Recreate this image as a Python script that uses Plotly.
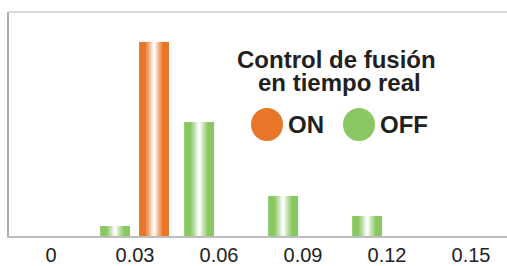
import plotly.graph_objects as go

# Data
bin_centers = [0.015, 0.045, 0.075, 0.105, 0.135]
on_values = [0, 97, 0, 0, 0]
off_values = [5, 57, 20, 10, 0]
tick_vals = [0, 0.03, 0.06, 0.09, 0.12, 0.15]
tick_text = ["0", "0.03", "0.06", "0.09", "0.12", "0.15"]
title_lines = ["Control de fusión", "en tiempo real"]
series_names = ["ON", "OFF"]

ORANGE = (232, 118, 40)
GREEN = (136, 199, 98)

def mix(c, t):
    r, g, b = (round(v + (255 - v) * t) for v in c)
    return f"rgb({r},{g},{b})"

W = 0.0107
layers = [(1.0, 0.0), (0.52, 0.25), (0.36, 0.5), (0.22, 0.75), (0.1, 0.95)]

fig = go.Figure()
for name, vals, col, cofs in [("ON", on_values, ORANGE, -0.0082), ("OFF", off_values, GREEN, 0.0079)]:
    for frac, t in layers:
        w = W * frac
        fig.add_trace(go.Bar(
            x=bin_centers, y=vals, width=w, offset=cofs - w / 2,
            marker=dict(color=mix(col, t), line=dict(width=0)),
            name=name, showlegend=False, hoverinfo="skip",
        ))

L, T, B = 9, 12, 30
PW, PH = 498, 224

def py(ypx):
    return (T + PH - ypx) / PH

def px(xpx):
    return (xpx - L) / PW

font_b = dict(family="Liberation Sans, Arial, sans-serif", size=24, color="#231F20")
ann = [
    dict(text="<b>" + title_lines[0] + "</b>", x=px(336), y=py(59.5), xref="paper", yref="paper",
         xanchor="center", yanchor="middle", showarrow=False, font=font_b),
    dict(text="<b>" + title_lines[1] + "</b>", x=px(339.5), y=py(82.5), xref="paper", yref="paper",
         xanchor="center", yanchor="middle", showarrow=False, font=font_b),
    dict(text="<b>" + series_names[0] + "</b>", x=px(286), y=py(124), xref="paper", yref="paper",
         xanchor="left", yanchor="middle", showarrow=False, font=font_b),
    dict(text="<b>" + series_names[1] + "</b>", x=px(378), y=py(124), xref="paper", yref="paper",
         xanchor="left", yanchor="middle", showarrow=False, font=font_b),
]

shapes = [
    dict(type="line", xref="paper", yref="paper", x0=0, x1=1, y0=1, y1=1,
         line=dict(color="#d9d9d9", width=2)),
    dict(type="circle", xref="paper", yref="paper", xsizemode="pixel", ysizemode="pixel",
         xanchor=px(267), yanchor=py(124.5), x0=-16, x1=16, y0=-16.5, y1=16.5,
         fillcolor=mix(ORANGE, 0), line=dict(width=0)),
    dict(type="circle", xref="paper", yref="paper", xsizemode="pixel", ysizemode="pixel",
         xanchor=px(359), yanchor=py(124.5), x0=-16, x1=16, y0=-16.5, y1=16.5,
         fillcolor=mix(GREEN, 0), line=dict(width=0)),
]

fig.update_layout(
    width=507, height=266,
    margin=dict(l=L, r=0, t=T, b=B, pad=0),
    paper_bgcolor="white", plot_bgcolor="white",
    barmode="overlay",
    showlegend=False,
    annotations=ann, shapes=shapes,
    xaxis=dict(range=[-0.015, 0.16286], tickvals=tick_vals, ticktext=tick_text,
               showgrid=False, zeroline=False, showline=True, linecolor="#bdbdbd", linewidth=1.5,
               ticks="", automargin=False, ticklabelstandoff=0,
               tickfont=dict(family="Liberation Sans, Arial, sans-serif", size=20, color="#222")),
    yaxis=dict(range=[0, 112], showgrid=False, zeroline=False, showticklabels=False,
               showline=True, linecolor="#ababab", linewidth=1.5, ticks="", automargin=False),
)

fig.write_html("out.html", config={"displayModeBar": False},
               post_script="document.body.style.margin='0';document.body.style.overflow='hidden';")
